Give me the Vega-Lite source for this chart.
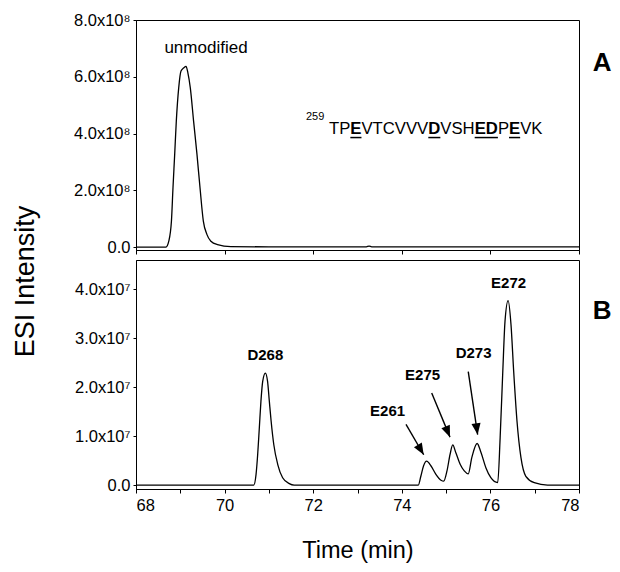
{
  "$schema": "https://vega.github.io/schema/vega-lite/v6.json",
  "padding": {"left": 10, "top": 11, "right": 5, "bottom": 5},
  "background": "white",
  "spacing": 10,
  "bounds": "flush",
  "config": {
    "view": {"stroke": "black", "strokeWidth": 1},
    "font": "Liberation Sans",
    "axis": {
      "grid": false,
      "domainColor": "black",
      "tickColor": "black",
      "labelColor": "black",
      "titleColor": "black",
      "labelFont": "Liberation Sans",
      "titleFont": "Liberation Sans",
      "titleFontWeight": "normal",
      "labelFontSize": 16.5,
      "tickSize": 4,
      "domainWidth": 1,
      "tickWidth": 1
    },
    "text": {"font": "Liberation Sans", "color": "black"}
  },
  "vconcat": [
    {
      "width": 443,
      "height": 230,
      "layer": [
        {
          "data": {"values": [
            {"t": 68.0, "v": 0}, {"t": 68.5, "v": 0}, {"t": 68.677, "v": 0},
            {"t": 68.74, "v": 2.1e7}, {"t": 68.80, "v": 9.2e7}, {"t": 68.835, "v": 2.09e8},
            {"t": 68.873, "v": 3.26e8}, {"t": 68.91, "v": 4.44e8}, {"t": 68.964, "v": 5.61e8},
            {"t": 69.016, "v": 6.20e8}, {"t": 69.08, "v": 6.32e8}, {"t": 69.129, "v": 6.37e8},
            {"t": 69.17, "v": 6.15e8}, {"t": 69.226, "v": 5.61e8}, {"t": 69.30, "v": 4.44e8},
            {"t": 69.377, "v": 3.26e8}, {"t": 69.445, "v": 2.09e8}, {"t": 69.52, "v": 9.2e7},
            {"t": 69.60, "v": 4.5e7}, {"t": 69.69, "v": 2.1e7}, {"t": 69.84, "v": 9e6},
            {"t": 70.14, "v": 2e6}, {"t": 71.0, "v": 1e6}, {"t": 72.0, "v": 1e6},
            {"t": 73.2, "v": 1e6}, {"t": 73.26, "v": 4e6}, {"t": 73.32, "v": 1e6},
            {"t": 74.5, "v": 1e6}, {"t": 76.0, "v": 1e6}, {"t": 78.0, "v": 1e6}
          ]},
          "mark": {"type": "line", "color": "black", "strokeWidth": 1.3, "interpolate": "monotone"},
          "encoding": {
            "x": {"field": "t", "type": "quantitative",
                  "scale": {"domain": [68, 78], "nice": false, "zero": false},
                  "axis": {"values": [68, 70, 72, 74, 76, 78], "labels": false, "title": null, "tickSize": 4}},
            "y": {"field": "v", "type": "quantitative",
                  "scale": {"domain": [-1e7, 8e8], "nice": false, "zero": false},
                  "axis": {"values": [0, 200000000, 400000000, 600000000, 800000000],
                           "labelExpr": "datum.value == 0 ? '0.0' : format(datum.value/1e8, '.1f') + 'x10⁸'",
                           "tickSize": 3, "labelPadding": 3,
                           "title": "ESI Intensity", "titleFontSize": 27, "titleX": -103, "titleY": 261,
                           "titleAngle": -90, "titleBaseline": "alphabetic", "titleAlign": "center"}}
          }
        },
        {
          "data": {"values": [{"t": 69.58, "v": 683000000, "label": "unmodified"}]},
          "mark": {"type": "text", "fontSize": 17, "align": "center", "baseline": "alphabetic"},
          "encoding": {
            "x": {"field": "t", "type": "quantitative", "scale": {"domain": [68, 78], "nice": false, "zero": false}},
            "y": {"field": "v", "type": "quantitative", "scale": {"domain": [-1e7, 8e8], "nice": false, "zero": false}},
            "text": {"field": "label"}
          }
        },
        {
          "data": {"values": [{"t": 71.837, "v": 447000000, "label": "259"}]},
          "mark": {"type": "text", "fontSize": 11, "align": "left", "baseline": "alphabetic"},
          "encoding": {
            "x": {"field": "t", "type": "quantitative", "scale": {"domain": [68, 78], "nice": false, "zero": false}},
            "y": {"field": "v", "type": "quantitative", "scale": {"domain": [-1e7, 8e8], "nice": false, "zero": false}},
            "text": {"field": "label"}
          }
        },
        {
          "data": {"values": [
            {"t": 72.3567, "v": 398000000, "label": "TP"},
            {"t": 73.0898, "v": 398000000, "label": "VTCVVV"},
            {"t": 74.8704, "v": 398000000, "label": "VSH"},
            {"t": 76.1691, "v": 398000000, "label": "P"},
            {"t": 76.6718, "v": 398000000, "label": "VK"}
          ]},
          "mark": {"type": "text", "fontSize": 16.7, "align": "left", "baseline": "alphabetic"},
          "encoding": {
            "x": {"field": "t", "type": "quantitative", "scale": {"domain": [68, 78], "nice": false, "zero": false}},
            "y": {"field": "v", "type": "quantitative", "scale": {"domain": [-1e7, 8e8], "nice": false, "zero": false}},
            "text": {"field": "label"}
          }
        },
        {
          "data": {"values": [
            {"t": 72.8384, "v": 398000000, "label": "E"},
            {"t": 74.5982, "v": 398000000, "label": "D"},
            {"t": 75.6454, "v": 398000000, "label": "ED"},
            {"t": 76.4205, "v": 398000000, "label": "E"}
          ]},
          "mark": {"type": "text", "fontSize": 16.7, "fontWeight": "bold", "align": "left", "baseline": "alphabetic"},
          "encoding": {
            "x": {"field": "t", "type": "quantitative", "scale": {"domain": [68, 78], "nice": false, "zero": false}},
            "y": {"field": "v", "type": "quantitative", "scale": {"domain": [-1e7, 8e8], "nice": false, "zero": false}},
            "text": {"field": "label"}
          }
        },
        {
          "data": {"values": [
            {"t": 72.8384, "t2": 73.0898, "v": 386000000},
            {"t": 74.5982, "t2": 74.8704, "v": 386000000},
            {"t": 75.6454, "t2": 76.1691, "v": 386000000},
            {"t": 76.4205, "t2": 76.6718, "v": 386000000}
          ]},
          "mark": {"type": "rule", "color": "black", "strokeWidth": 1.5},
          "encoding": {
            "x": {"field": "t", "type": "quantitative", "scale": {"domain": [68, 78], "nice": false, "zero": false}},
            "x2": {"field": "t2"},
            "y": {"field": "v", "type": "quantitative", "scale": {"domain": [-1e7, 8e8], "nice": false, "zero": false}}
          }
        },
        {
          "data": {"values": [{"t": 78.52, "v": 648000000, "label": "A"}]},
          "mark": {"type": "text", "fontSize": 26, "fontWeight": "bold", "align": "center", "baseline": "middle"},
          "encoding": {
            "x": {"field": "t", "type": "quantitative", "scale": {"domain": [68, 78], "nice": false, "zero": false}},
            "y": {"field": "v", "type": "quantitative", "scale": {"domain": [-1e7, 8e8], "nice": false, "zero": false}},
            "text": {"field": "label"}
          }
        }
      ]
    },
    {
      "width": 443,
      "height": 229,
      "layer": [
        {
          "data": {"values": [
            {"t": 68.0, "v": 0}, {"t": 70.0, "v": 0}, {"t": 70.657, "v": 0},
            {"t": 70.71, "v": 2.2e6}, {"t": 70.747, "v": 6.3e6}, {"t": 70.784, "v": 1.17e7},
            {"t": 70.82, "v": 1.71e7}, {"t": 70.86, "v": 2.12e7}, {"t": 70.92, "v": 2.29e7},
            {"t": 70.97, "v": 2.12e7}, {"t": 71.01, "v": 1.71e7}, {"t": 71.05, "v": 1.31e7},
            {"t": 71.11, "v": 8.3e6}, {"t": 71.20, "v": 4.2e6}, {"t": 71.31, "v": 1.5e6},
            {"t": 71.46, "v": 3e5}, {"t": 71.57, "v": 0}, {"t": 73.0, "v": 0},
            {"t": 74.373, "v": 0}, {"t": 74.43, "v": 1.8e6}, {"t": 74.49, "v": 3.9e6},
            {"t": 74.56, "v": 4.9e6}, {"t": 74.66, "v": 3.9e6}, {"t": 74.77, "v": 2.2e6},
            {"t": 74.885, "v": 1.0e6}, {"t": 74.946, "v": 8e5}, {"t": 75.02, "v": 2.9e6},
            {"t": 75.09, "v": 6.3e6}, {"t": 75.15, "v": 8.2e6}, {"t": 75.22, "v": 6.6e6},
            {"t": 75.32, "v": 4.2e6}, {"t": 75.41, "v": 2.9e6}, {"t": 75.50, "v": 2.3e6},
            {"t": 75.58, "v": 5.6e6}, {"t": 75.70, "v": 8.5e6}, {"t": 75.79, "v": 6.6e6},
            {"t": 75.90, "v": 3.5e6}, {"t": 76.01, "v": 1.5e6}, {"t": 76.165, "v": 5e5},
            {"t": 76.22, "v": 9.7e6}, {"t": 76.28, "v": 2.33e7}, {"t": 76.33, "v": 3.35e7},
            {"t": 76.40, "v": 3.77e7}, {"t": 76.465, "v": 3.28e7}, {"t": 76.525, "v": 2.33e7},
            {"t": 76.60, "v": 1.31e7}, {"t": 76.69, "v": 5.6e6}, {"t": 76.80, "v": 1.8e6},
            {"t": 76.99, "v": 5e5}, {"t": 77.29, "v": 0}, {"t": 78.0, "v": 0}
          ]},
          "mark": {"type": "line", "color": "black", "strokeWidth": 1.3, "interpolate": "monotone"},
          "encoding": {
            "x": {"field": "t", "type": "quantitative",
                  "scale": {"domain": [68, 78], "nice": false, "zero": false},
                  "axis": {"values": [68, 69, 70, 71, 72, 73, 74, 75, 76, 77, 78],
                           "labelExpr": "datum.value % 2 == 0 ? datum.label : ''",
                           "labelPadding": 4, "tickSize": 4,
                           "title": "Time (min)", "titleFontSize": 23.5, "titleY": 68, "titleBaseline": "alphabetic"}},
            "y": {"field": "v", "type": "quantitative",
                  "scale": {"domain": [-8e5, 4.6e7], "nice": false, "zero": false},
                  "axis": {"values": [0, 10000000, 20000000, 30000000, 40000000],
                           "labelExpr": "datum.value == 0 ? '0.0' : format(datum.value/1e7, '.1f') + 'x10⁷'",
                           "tickSize": 3, "labelPadding": 3, "title": null}}
          }
        },
        {
          "data": {"values": [
            {"t": 70.92, "v": 2.65e7, "label": "D268"},
            {"t": 73.68, "v": 1.51e7, "label": "E261"},
            {"t": 74.47, "v": 2.26e7, "label": "E275"},
            {"t": 75.62, "v": 2.70e7, "label": "D273"},
            {"t": 76.41, "v": 4.13e7, "label": "E272"}
          ]},
          "mark": {"type": "text", "fontSize": 15, "fontWeight": "bold", "align": "center", "baseline": "middle"},
          "encoding": {
            "x": {"field": "t", "type": "quantitative", "scale": {"domain": [68, 78], "nice": false, "zero": false}},
            "y": {"field": "v", "type": "quantitative", "scale": {"domain": [-8e5, 4.6e7], "nice": false, "zero": false}},
            "text": {"field": "label"}
          }
        },
        {
          "data": {"values": [
            {"t": 74.095, "v": 1.24e7, "t2": 74.494, "v2": 6.2e6},
            {"t": 74.675, "v": 1.88e7, "t2": 75.088, "v2": 9.8e6},
            {"t": 75.50, "v": 2.32e7, "t2": 75.712, "v2": 1.03e7}
          ]},
          "mark": {"type": "rule", "color": "black", "strokeWidth": 1.4},
          "encoding": {
            "x": {"field": "t", "type": "quantitative", "scale": {"domain": [68, 78], "nice": false, "zero": false}},
            "y": {"field": "v", "type": "quantitative", "scale": {"domain": [-8e5, 4.6e7], "nice": false, "zero": false}},
            "x2": {"field": "t2"},
            "y2": {"field": "v2"}
          }
        },
        {
          "data": {"values": [
            {"t2": 74.494, "v2": 6.2e6, "ang": -30.5},
            {"t2": 75.088, "v2": 9.8e6, "ang": -22.6},
            {"t2": 75.712, "v2": 1.03e7, "ang": -8.2}
          ]},
          "mark": {"type": "point", "filled": true, "color": "black", "opacity": 1, "size": 520, "shape": "M0,0L-0.4,-1L0.4,-1Z"},
          "encoding": {
            "x": {"field": "t2", "type": "quantitative", "scale": {"domain": [68, 78], "nice": false, "zero": false}},
            "y": {"field": "v2", "type": "quantitative", "scale": {"domain": [-8e5, 4.6e7], "nice": false, "zero": false}},
            "angle": {"field": "ang", "type": "quantitative", "scale": null}
          }
        },
        {
          "data": {"values": [{"t": 78.52, "v": 3.55e7, "label": "B"}]},
          "mark": {"type": "text", "fontSize": 26, "fontWeight": "bold", "align": "center", "baseline": "middle"},
          "encoding": {
            "x": {"field": "t", "type": "quantitative", "scale": {"domain": [68, 78], "nice": false, "zero": false}},
            "y": {"field": "v", "type": "quantitative", "scale": {"domain": [-8e5, 4.6e7], "nice": false, "zero": false}},
            "text": {"field": "label"}
          }
        }
      ]
    }
  ]
}
